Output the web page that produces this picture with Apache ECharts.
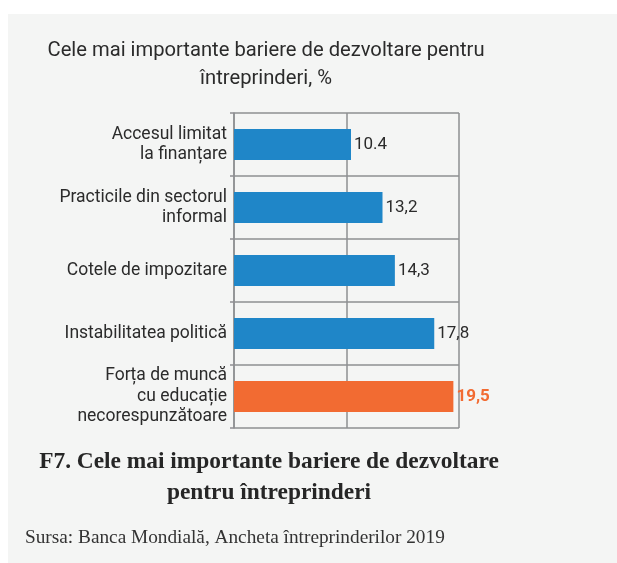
<!DOCTYPE html>
<html>
<head>
<meta charset="utf-8">
<script src="https://cdn.jsdelivr.net/npm/echarts@6/dist/echarts.min.js"></script>
<style>
  html, body { margin: 0; padding: 0; background: #ffffff; }
  #panel { position: absolute; left: 8px; top: 14px; width: 609px; height: 549px; background: #f4f5f4; }
  #chart { position: absolute; left: 0; top: 0; width: 617px; height: 563px; }
</style>
</head>
<body>
<div id="panel"></div>
<div id="chart"></div>
<script>
// date din grafic
const categories = [
  'Accesul limitat\nla finanțare',
  'Practicile din sectorul\ninformal',
  'Cotele de impozitare',
  'Instabilitatea politică',
  'Forța de muncă\ncu educație\nnecorespunzătoare'
]
const values = [10.4, 13.2, 14.3, 17.8, 19.5]
const valueLabels = ['10.4', '13,2', '14,3', '17,8', '19,5']
const highlight = [false, false, false, false, true]

const chart = echarts.init(document.getElementById('chart'))

const gridColor = '#8e8f92'
const sans = 'Roboto'

const option = {
  backgroundColor: 'transparent',
  animation: false,
  graphic: [
    {
      type: 'text',
      x: 266,
      y: 37,
      style: {
        text: 'Cele mai importante bariere de dezvoltare pentru\nîntreprinderi, %',
        textAlign: 'center',
        font: '20.2px Roboto',
        lineHeight: 28,
        fill: '#2b2b2b'
      }
    },
    {
      type: 'text',
      x: 269,
      y: 446,
      style: {
        text: 'F7. Cele mai importante bariere de dezvoltare\npentru întreprinderi',
        textAlign: 'center',
        font: 'bold 23.4px "Liberation Serif"',
        lineHeight: 31,
        fill: '#262626'
      }
    },
    {
      type: 'text',
      x: 25,
      y: 528,
      style: {
        text: 'Sursa: Banca Mondială, Ancheta întreprinderilor 2019',
        font: '19.3px "Liberation Serif"',
        fill: '#333333'
      }
    }
  ],
  grid: { left: 234, right: 158, top: 113, bottom: 135, containLabel: false },
  xAxis: {
    type: 'value',
    min: 0,
    max: 20,
    interval: 10,
    axisLabel: { show: false },
    axisTick: { show: false },
    axisLine: { show: false },
    splitLine: { show: true, lineStyle: { color: gridColor, width: 1.5 } }
  },
  yAxis: {
    type: 'category',
    inverse: true,
    data: categories,
    axisLine: { show: true, lineStyle: { color: gridColor, width: 1.5 } },
    axisTick: { show: true, length: 4, lineStyle: { color: gridColor, width: 1.5 } },
    splitLine: { show: true, lineStyle: { color: gridColor, width: 1.5 } },
    axisLabel: {
      margin: 7,
      fontFamily: sans,
      fontSize: 17.5,
      lineHeight: 20.5,
      color: '#2b2b2b',
      align: 'right'
    }
  },
  series: [
    {
      type: 'bar',
      barWidth: 31,
      data: values.map((v, i) => ({
        value: v,
        itemStyle: { color: highlight[i] ? '#f26b32' : '#1f86c8' },
        label: {
          show: true,
          position: 'right',
          distance: 3,
          formatter: valueLabels[i],
          fontFamily: sans,
          fontSize: 17,
          fontWeight: highlight[i] ? 'bold' : 'normal',
          color: highlight[i] ? '#f26b32' : '#2b2b2b'
        }
      }))
    }
  ]
}

chart.setOption(option)
window.addEventListener('resize', () => chart.resize())
</script>
</body>
</html>
